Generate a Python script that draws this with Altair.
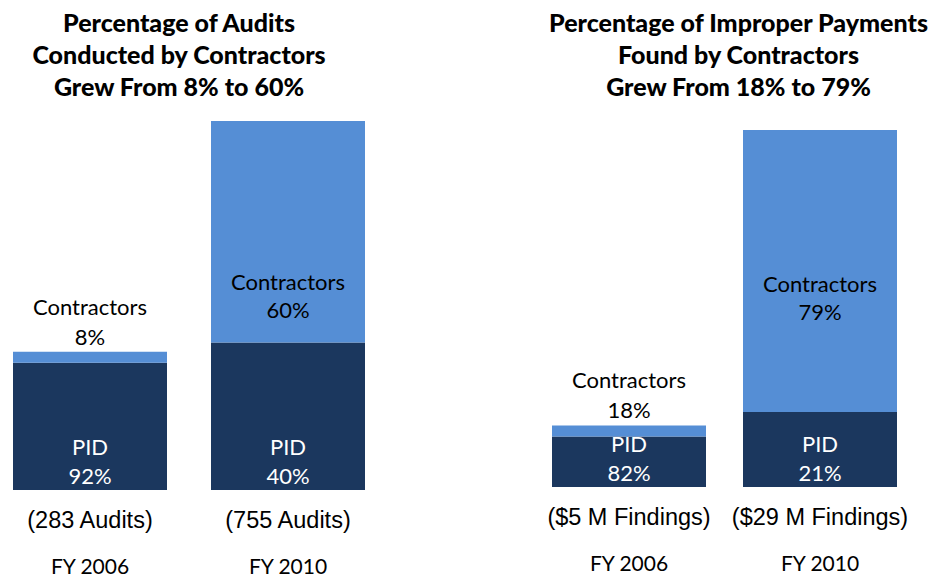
import altair as alt
import pandas as pd

# ---- data ----
years = ["FY 2006", "FY 2010"]
audit_totals = [283, 755]
audit_pid_pct = [92, 40]
audit_con_pct = [8, 60]
audit_captions = ["(283 Audits)", "(755 Audits)"]

finding_totals = [5, 29]
finding_pid_pct = [82, 21]
finding_con_pct = [18, 79]
finding_captions = ["($5 M Findings)", "($29 M Findings)"]

title_left = ["Percentage of Audits", "Conducted by Contractors", "Grew From 8% to 60%"]
title_right = ["Percentage of Improper Payments", "Found by Contractors", "Grew From 18% to 79%"]

DARK = "#1B375E"
LIGHT = "#558ED5"
SANS = "Lato"


def panel(totals, pid, con, captions, title, width, pad_inner, y_domain, title_dx):
    seg_rows = []
    for y, t, p, c in zip(years, totals, pid, con):
        seg_rows.append({"year": y, "group": "PID", "ord": 0, "value": t * p / 100})
        seg_rows.append({"year": y, "group": "Contractors", "ord": 1, "value": t * c / 100})
    seg = pd.DataFrame(seg_rows)
    info = pd.DataFrame({"year": years, "total": totals, "pid": pid, "con": con, "caption": captions})

    x = alt.X("year:N", scale=alt.Scale(domain=years, paddingInner=pad_inner, paddingOuter=0), axis=None)
    yscale = alt.Scale(domain=y_domain, nice=False, zero=False)

    bars = alt.Chart(seg).mark_bar(strokeWidth=0).encode(
        x=x,
        y=alt.Y("value:Q", stack="zero", scale=yscale, axis=None),
        color=alt.Color("group:N", scale=alt.Scale(domain=["PID", "Contractors"], range=[DARK, LIGHT]), legend=None),
        order=alt.Order("ord:Q", sort="ascending"),
    )

    base = alt.Chart(info).transform_calculate(
        pid_label="datum.pid + '%'",
        con_label="datum.con + '%'",
        anchor="datum.con >= 50 ? datum.total * 0.486 : datum.total",
    )

    def txt(dy, color="black", font=SANS, size=22):
        return base.mark_text(dy=dy, font=font, fontSize=size, color=color, baseline="middle", align="center")

    pid_word = txt(-42, "white").encode(x=x, y=alt.datum(0), text=alt.value("PID"))
    pid_pct = txt(-13, "white").encode(x=x, y=alt.datum(0), text="pid_label:N")

    small = base.transform_filter("datum.con < 50")
    large = base.transform_filter("datum.con >= 50")
    con_word_s = small.mark_text(dy=-44, font=SANS, fontSize=22, color="black").encode(
        x=x, y=alt.Y("anchor:Q"), text=alt.value("Contractors"))
    con_pct_s = small.mark_text(dy=-14, font=SANS, fontSize=22, color="black").encode(
        x=x, y=alt.Y("anchor:Q"), text="con_label:N")
    con_word_l = large.mark_text(dy=-28, font=SANS, fontSize=22, color="black").encode(
        x=x, y=alt.Y("anchor:Q"), text=alt.value("Contractors"))
    con_pct_l = large.mark_text(dy=0, font=SANS, fontSize=22, color="black").encode(
        x=x, y=alt.Y("anchor:Q"), text="con_label:N")

    cap = txt(31, "black", "Liberation Sans", 23.5).encode(x=x, y=alt.datum(0), text="caption:N")
    fy = txt(78, "black", SANS, 21).encode(x=x, y=alt.datum(0), text="year:N")

    return alt.layer(
        bars, pid_word, pid_pct, con_word_s, con_pct_s, con_word_l, con_pct_l, cap, fy
    ).properties(
        width=width,
        height=369,
        title=alt.TitleParams(
            text=title, font=SANS, fontWeight=900, fontSize=25, lineHeight=32,
            anchor="middle", dx=title_dx, offset=20, color="black",
        ),
    )


left = panel(audit_totals, audit_pid_pct, audit_con_pct, audit_captions, title_left,
             352, 44 / 198, [0, 755], -10)
right = panel(finding_totals, finding_pid_pct, finding_con_pct, finding_captions, title_right,
              345, 37 / 191, [-0.244, 29.73], 14)

chart = alt.hconcat(left, right, spacing=187, bounds="flush").configure_view(
    stroke=None
).properties(padding={"left": 5, "top": 4, "right": 5, "bottom": 0})

chart.save("out.html", embed_options={"renderer": "svg", "actions": False})
